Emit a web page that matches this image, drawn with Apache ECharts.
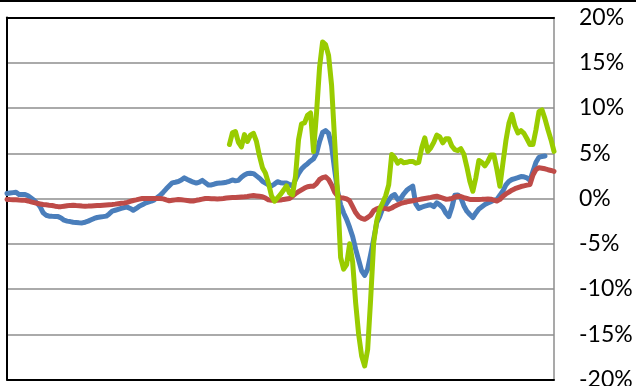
<!DOCTYPE html>
<html>
<head>
<meta charset="utf-8">
<script src="https://cdn.jsdelivr.net/npm/echarts@6/dist/echarts.min.js"></script>
<style>
  html, body { margin: 0; padding: 0; background: #fff; }
  #chart { width: 636px; height: 386px; }
</style>
</head>
<body>
<div id="chart"></div>
<script>
// Percentage tick labels on the right-hand axis
const yTicks = [-20, -15, -10, -5, 0, 5, 10, 15, 20];

// Blue series (ends three periods before the others)
const blueSeries = [
  0.55, 0.6, 0.65, 0.7, 0.45, 0.45, 0.45, 0.3, 0.05, -0.2,
  -0.5, -0.9, -1.55, -1.85, -1.95, -1.97, -1.98, -2.0, -2.15, -2.4,
  -2.5, -2.55, -2.62, -2.65, -2.68, -2.7, -2.62, -2.5, -2.35, -2.2,
  -2.1, -2.05, -2.0, -1.95, -1.7, -1.4, -1.3, -1.2, -1.1, -1.0,
  -0.95, -1.1, -1.3, -1.1, -0.85, -0.7, -0.5, -0.4, -0.3, -0.15,
  0.1, 0.35, 0.7, 1.07, 1.4, 1.73, 1.8, 1.88, 2.05, 2.28,
  2.1, 1.95, 1.8, 1.7, 1.8, 2.0, 1.75, 1.5, 1.5, 1.6,
  1.68, 1.7, 1.75, 1.8, 1.9, 2.05, 1.95, 2.0, 2.35, 2.6,
  2.76, 2.8, 2.75, 2.5, 2.25, 1.9, 1.7, 1.5, 1.4, 1.6,
  1.85, 1.75, 1.7, 1.7, 1.55, 1.36, 2.1, 2.75, 3.25, 3.6,
  3.85, 4.15, 4.4, 5.0, 6.3, 7.3, 7.5, 7.2, 5.8, 3.2,
  0.8, -0.7, -1.6, -2.3, -3.2, -4.2, -5.6, -6.8, -8.0, -8.5,
  -7.8, -6.2, -4.5, -2.7, -2.0, -1.1, -0.7, -0.2, 0.25, 0.44,
  -0.1, 0.0, 0.5, 0.9, 1.15, 1.36, -0.6, -1.1, -0.95, -0.85,
  -0.75, -0.7, -0.9, -0.47, -0.7, -1.0, -1.6, -2.0, -1.0, 0.35,
  0.4, 0.1, -0.8, -1.4, -1.77, -2.1, -1.6, -1.15, -0.9, -0.66,
  -0.5, -0.35, -0.2, -0.1, 0.35, 0.85, 1.5, 1.9, 2.1, 2.2,
  2.3, 2.42, 2.4, 2.28, 2.0, 3.0, 4.0, 4.55, 4.65, 4.7,
  null, null, null
];

// Red series
const redSeries = [
  -0.1, -0.12, -0.13, -0.15, -0.17, -0.18, -0.2, -0.27, -0.37, -0.45,
  -0.53, -0.6, -0.67, -0.7, -0.74, -0.77, -0.85, -0.9, -0.9, -0.85,
  -0.8, -0.76, -0.75, -0.78, -0.8, -0.83, -0.85, -0.84, -0.82, -0.8,
  -0.78, -0.77, -0.74, -0.71, -0.68, -0.66, -0.62, -0.57, -0.53, -0.49,
  -0.43, -0.32, -0.22, -0.15, -0.07, 0, 0, 0, 0, 0,
  0, 0, -0.04, -0.15, -0.25, -0.2, -0.15, -0.1, -0.13, -0.18,
  -0.23, -0.28, -0.28, -0.2, -0.14, -0.07, 0, 0, -0.02, -0.03,
  -0.05, -0.04, 0, 0.05, 0.08, 0.1, 0.12, 0.15, 0.17, 0.19,
  0.22, 0.29, 0.32, 0.28, 0.24, 0.2, 0.05, -0.15, -0.2, -0.2,
  -0.2, -0.18, -0.1, -0.05, 0, 0.25, 0.55, 0.75, 0.95, 1.15,
  1.3, 1.36, 1.36, 1.65, 2.1, 2.3, 2.4, 2.1, 1.5, 0.7,
  0.3, 0.07, 0.05, -0.05, -0.25, -0.9, -1.55, -2.0, -2.2, -2.3,
  -2.1, -1.85, -1.35, -1.15, -1.05, -1.08, -1.12, -1.18, -1.05, -0.85,
  -0.7, -0.55, -0.45, -0.38, -0.3, -0.24, -0.18, -0.12, -0.06, 0,
  0.06, 0.12, 0.2, 0.25, 0.15, 0.05, -0.07, -0.05, 0, 0.15,
  0.25, 0.22, 0.1, 0, -0.1, -0.1, -0.1, -0.1, -0.09, -0.07,
  -0.06, -0.08, -0.18, -0.28, -0.1, 0.25, 0.5, 0.7, 0.92, 1.08,
  1.2, 1.32, 1.4, 1.48, 1.55, 2.6, 3.2, 3.4, 3.35, 3.28,
  3.18, 3.1, 3.0
];

// Green series (starts at period 74)
const greenStart = 74;
const greenValues = [
  5.96, 7.25, 7.4, 6.2, 5.7, 7.06, 6.3, 7.0, 7.2, 6.3,
  4.7, 3.4, 2.8, 1.7, 0.3, -0.3, 0.07, 0.45, 0.9, 1.4,
  0.6, 0.4, 2.46, 6.5, 8.25, 8.35, 9.2, 9.45, 5.2, 9.5,
  14.5, 17.3, 17.0, 15.8, 12.5, 6.5, 0.5, -6.5, -7.8, -7.3,
  -5.0, -7.0, -11.5, -15.0, -17.4, -18.5, -16.7, -11.1, -4.9, -2.5,
  -1.2, -0.47, 0.3, 1.5, 4.86, 4.5, 3.9, 4.2, 3.95, 4.0,
  4.1, 4.1, 3.9, 4.0, 5.6, 6.7, 5.2, 5.6, 6.2, 7.0,
  6.8, 6.15, 6.6, 6.6, 5.8, 5.4, 5.3, 5.5, 4.9, 3.5,
  1.9, 0.8, 2.3, 4.2, 4.0, 3.6, 4.1, 4.8, 4.8, 3.2,
  1.36, 3.9, 6.4, 8.3, 9.3, 8.0, 7.25, 7.5, 7.2, 6.6,
  5.96, 5.96, 7.6, 9.6, 9.8, 8.8, 7.6, 6.5, 5.2
];

const periodCount = redSeries.length;
const periods = Array.from({ length: periodCount }, (_, i) => String(i + 1));
const greenSeries = Array.from({ length: periodCount }, (_, i) =>
  i < greenStart ? null : greenValues[i - greenStart]
);

const chart = echarts.init(document.getElementById('chart'), null, { renderer: 'canvas' });

const lineStyleOf = (color) => ({ color: color, width: 5, cap: 'round', join: 'round' });

// Category axes used only as the black top and bottom frame of the plot
const frameAxis = (position) => ({
  type: 'category',
  data: periods,
  boundaryGap: false,
  position: position,
  axisLine: { show: true, onZero: false, lineStyle: { color: '#000', width: 2 } },
  axisTick: { show: false },
  axisLabel: { show: false },
  splitLine: { show: false }
});

chart.setOption({
  animation: false,
  backgroundColor: '#ffffff',
  grid: {
    left: 7, right: 82, top: 17.5, bottom: 6.5,
    containLabel: false,
    outerBoundsMode: 'none'
  },
  graphic: [{
    type: 'rect',
    shape: { x: 0, y: 0, width: 636, height: 2 },
    style: { fill: '#000' },
    silent: true
  }],
  xAxis: [frameAxis('bottom'), frameAxis('top')],
  yAxis: [{
    type: 'value',
    position: 'right',
    min: yTicks[0],
    max: yTicks[yTicks.length - 1],
    interval: 5,
    axisLine: { show: true, onZero: false, lineStyle: { color: '#8c8c8c', width: 1.5 } },
    axisTick: { show: false },
    axisLabel: {
      show: true,
      align: 'left',
      margin: 25,
      color: '#000',
      fontFamily: 'Lato, "Open Sans", sans-serif',
      fontSize: 23,
      formatter: (v) => v + '%'
    },
    splitLine: { show: true, lineStyle: { color: '#8e8e8e', width: 1.5 } }
  }, {
    type: 'value',
    position: 'left',
    min: yTicks[0],
    max: yTicks[yTicks.length - 1],
    interval: 5,
    axisLine: { show: true, onZero: false, lineStyle: { color: '#000', width: 2 } },
    axisTick: { show: false },
    axisLabel: { show: false },
    splitLine: { show: false }
  }],
  series: [{
    name: 'Blue',
    type: 'line',
    data: blueSeries,
    showSymbol: false,
    connectNulls: false,
    lineStyle: lineStyleOf('#4a7ebb'),
    itemStyle: { color: '#4a7ebb' },
    z: 2
  }, {
    name: 'Red',
    type: 'line',
    data: redSeries,
    showSymbol: false,
    lineStyle: lineStyleOf('#be4b48'),
    itemStyle: { color: '#be4b48' },
    z: 3
  }, {
    name: 'Green',
    type: 'line',
    data: greenSeries,
    showSymbol: false,
    connectNulls: false,
    lineStyle: lineStyleOf('#99cc00'),
    itemStyle: { color: '#99cc00' },
    z: 4
  }]
});
</script>
</body>
</html>
